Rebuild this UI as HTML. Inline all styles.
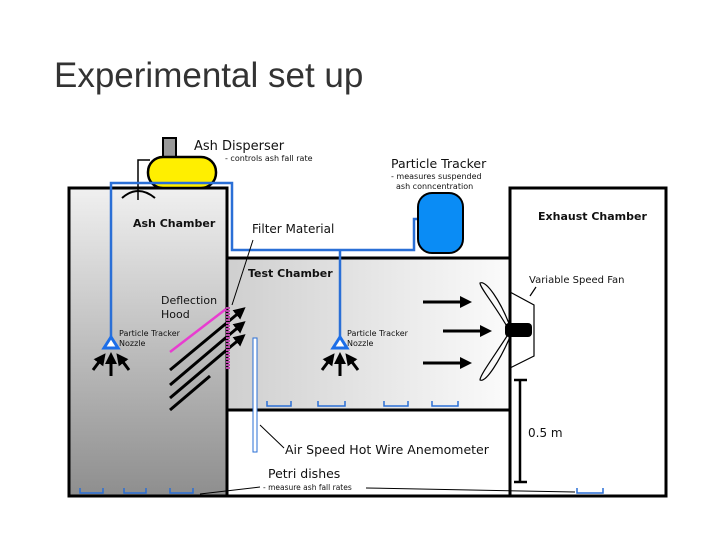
<!DOCTYPE html>
<html><head><meta charset="utf-8"><style>
body{margin:0;width:720px;height:540px;background:#fff;overflow:hidden;font-family:"Liberation Sans","DejaVu Sans",sans-serif}
</style></head><body>
<svg width="720" height="540" viewBox="0 0 720 540" xmlns="http://www.w3.org/2000/svg" font-family="DejaVu Sans, Liberation Sans, sans-serif">
<defs>
<linearGradient id="ga" x1="0" y1="0" x2="0" y2="1"><stop offset="0" stop-color="#f0f0f0"/><stop offset="1" stop-color="#8e8e8e"/></linearGradient>
<linearGradient id="gt" x1="0" y1="0" x2="1" y2="0"><stop offset="0" stop-color="#cfcfcf"/><stop offset="1" stop-color="#fbfbfb"/></linearGradient>
<marker id="ah" markerWidth="4" markerHeight="4" refX="2" refY="2" orient="auto" markerUnits="strokeWidth"><path d="M0,0L4,2L0,4z" fill="#000"/></marker>
</defs>
<text x="54" y="87" font-family="Liberation Sans, sans-serif" font-size="35" fill="#333">Experimental set up</text>
<rect x="69" y="188" width="158" height="308" fill="url(#ga)" stroke="#000" stroke-width="3"/>
<rect x="227" y="258" width="283" height="152" fill="url(#gt)" stroke="#000" stroke-width="3"/>
<rect x="227" y="410" width="283" height="86" fill="#fff" stroke="#000" stroke-width="3"/>
<rect x="510" y="188" width="156" height="308" fill="#fff" stroke="#000" stroke-width="3"/>
<line x1="227" y1="260" x2="227" y2="494" stroke="#000" stroke-width="3"/>
<rect x="163" y="138" width="13" height="20" fill="#999" stroke="#000" stroke-width="2"/>
<path d="M150,160H138V200" fill="none" stroke="#000" stroke-width="1.5"/>
<path d="M122,198Q138,184 155,198" fill="none" stroke="#000" stroke-width="2"/>
<rect x="148" y="157" width="68" height="31" rx="15" fill="#ffef00" stroke="#000" stroke-width="2.5"/>
<path d="M111,341V183H232V250H414V219H420" fill="none" stroke="#2a6fd6" stroke-width="2.5"/>
<path d="M340,250V341" fill="none" stroke="#2a6fd6" stroke-width="2.5"/>
<rect x="418" y="193" width="45" height="60" rx="14" fill="#0a8cf5" stroke="#000" stroke-width="2"/>
<path d="M111,337L104,348H118Z" fill="#fff" stroke="#1c6ee8" stroke-width="3"/>
<path d="M340,337L333,348H347Z" fill="#fff" stroke="#1c6ee8" stroke-width="3"/>
<g stroke="#000" stroke-width="3" marker-end="url(#ah)">
<line x1="111" y1="376" x2="111" y2="358"/><line x1="93" y1="370" x2="102" y2="358"/><line x1="129" y1="370" x2="120" y2="358"/>
<line x1="340" y1="376" x2="340" y2="358"/><line x1="322" y1="370" x2="331" y2="358"/><line x1="358" y1="370" x2="349" y2="358"/>
<line x1="229" y1="321" x2="241" y2="311"/><line x1="229" y1="335" x2="241" y2="325"/><line x1="229" y1="348" x2="241" y2="338"/>
<line x1="423" y1="302" x2="466" y2="302"/><line x1="443" y1="331" x2="486" y2="331"/><line x1="423" y1="363" x2="466" y2="363"/>
</g>
<g stroke="#000" stroke-width="3">
<line x1="170" y1="370" x2="229" y2="321"/><line x1="170" y1="385" x2="229" y2="335"/><line x1="170" y1="398" x2="229" y2="348"/><line x1="170" y1="410" x2="210" y2="376"/>
</g>
<line x1="170" y1="352" x2="226" y2="309" stroke="#e83cd0" stroke-width="2.5"/>
<line x1="228" y1="307" x2="228" y2="370" stroke="#b84aa8" stroke-width="4" stroke-dasharray="2,1"/>
<line x1="232" y1="305" x2="253" y2="240" stroke="#000" stroke-width="1"/>
<rect x="253" y="338" width="4" height="114" fill="#fff" stroke="#2a6fd6" stroke-width="1"/>
<line x1="260" y1="425" x2="284" y2="448" stroke="#000" stroke-width="1"/>
<g fill="none" stroke="#2a6fd6" stroke-width="1.5">
<path d="M267,401V406H291V401"/><path d="M318,401V406H345V401"/><path d="M384,401V406H408V401"/><path d="M432,401V406H458V401"/>
<path d="M80,488V493H103V488"/><path d="M124,488V493H146V488"/><path d="M170,488V493H193V488"/><path d="M577,488V493H603V488"/>
</g>
<path d="M200,494L260,487M366,488L575,492" stroke="#000" stroke-width="1" fill="none"/>
<g fill="none" stroke="#000" stroke-width="1.2">
<path d="M510,292L534,305V356L510,368"/>
<path d="M509,330C495,305 480,288 480,283C486,280 500,300 510,326"/>
<path d="M509,333C495,355 480,375 480,380C486,383 500,360 510,337"/>
<line x1="530" y1="296" x2="536" y2="287"/>
</g>
<rect x="505" y="323" width="27" height="14" rx="4" fill="#000"/>
<g stroke="#000" stroke-width="2.5"><line x1="520" y1="380" x2="520" y2="482"/><line x1="514" y1="380" x2="527" y2="380"/><line x1="514" y1="482" x2="527" y2="482"/></g>
<g fill="#111">
<text x="194" y="150" font-size="13">Ash Disperser</text>
<text x="225" y="161" font-size="8">- controls ash fall rate</text>
<text x="391" y="168" font-size="12.5">Particle Tracker</text>
<text x="391" y="179" font-size="8">- measures suspended</text>
<text x="396" y="189" font-size="8">ash conncentration</text>
<text x="133" y="227" font-size="11" font-weight="bold">Ash Chamber</text>
<text x="252" y="233" font-size="12">Filter Material</text>
<text x="248" y="277" font-size="11" font-weight="bold">Test Chamber</text>
<text x="538" y="220" font-size="11" font-weight="bold">Exhaust Chamber</text>
<text x="529" y="283" font-size="10">Variable Speed Fan</text>
<text x="161" y="304" font-size="11">Deflection</text>
<text x="161" y="318" font-size="11">Hood</text>
<text x="119" y="336" font-size="8">Particle Tracker</text>
<text x="119" y="346" font-size="8">Nozzle</text>
<text x="347" y="336" font-size="8">Particle Tracker</text>
<text x="347" y="346" font-size="8">Nozzle</text>
<text x="528" y="437" font-size="12">0.5 m</text>
<text x="285" y="454" font-size="12.5">Air Speed Hot Wire Anemometer</text>
<text x="268" y="478" font-size="12.5">Petri dishes</text>
<text x="263" y="490" font-size="7.5">- measure ash fall rates</text>
</g>
</svg>
</body></html>
